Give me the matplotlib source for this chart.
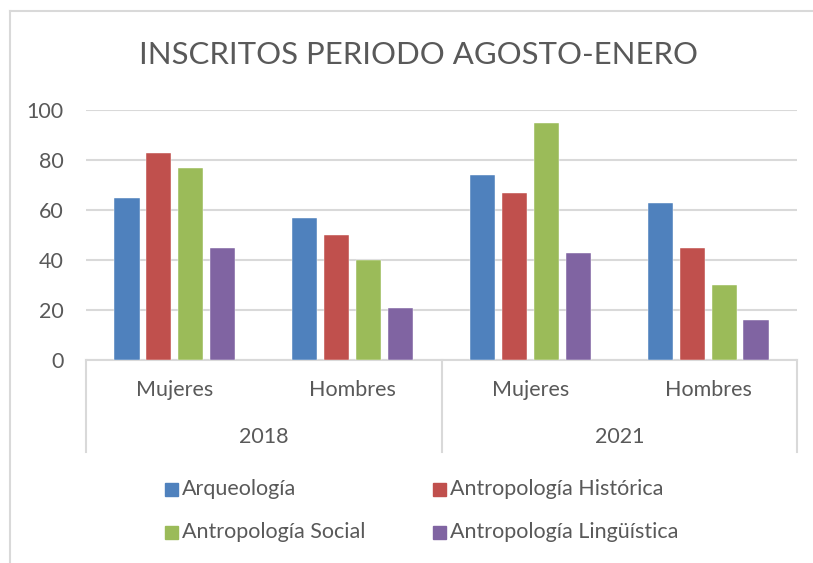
import matplotlib
matplotlib.use("Agg")
import matplotlib.pyplot as plt
import numpy as np
from matplotlib.patches import Rectangle
from matplotlib.lines import Line2D

years = ["2018", "2021"]
genders = ["Mujeres", "Hombres", "Mujeres", "Hombres"]
series_names = ["Arqueología", "Antropología Histórica", "Antropología Social", "Antropología Lingüística"]
arqueologia = [65, 57, 74, 63]
historica = [83, 50, 67, 45]
social = [77, 40, 95, 30]
linguistica = [45, 21, 43, 16]
series_values = [arqueologia, historica, social, linguistica]
colors = ["#4f81bd", "#c0504d", "#9bbb59", "#8064a2"]
yticks = [0, 20, 40, 60, 80, 100]
title = "INSCRITOS PERIODO AGOSTO-ENERO"

plt.rcParams['font.family'] = ['Lato', 'DejaVu Sans']
text_color = "#595959"
grid_color = "#d9d9d9"
fs = 15.5

W, H = 813, 563
fig = plt.figure(figsize=(W / 100, H / 100), dpi=100)

# outer chart border
fig.add_artist(Line2D([10 / W, 10 / W], [0, 1 - 11 / H], transform=fig.transFigure, color=grid_color, lw=1.5))
fig.add_artist(Line2D([10 / W, 1], [1 - 11 / H, 1 - 11 / H], transform=fig.transFigure, color=grid_color, lw=1.5))

x0, x1, ytop, ybot = 86, 797, 110, 360
ax = fig.add_axes([x0 / W, 1 - ybot / H, (x1 - x0) / W, (ybot - ytop) / H])

x = np.arange(len(genders))
bw = 0.142
pitch = 0.18
for i, (vals, c) in enumerate(zip(series_values, colors)):
    ax.bar(x + (i - 1.5) * pitch, vals, width=bw, color=c, label=series_names[i], zorder=3,
           edgecolor="white", linewidth=0.3)

ax.set_xlim(-0.5, len(genders) - 0.5)
ax.set_ylim(0, 100)
ax.set_yticks(yticks)
ax.set_yticklabels([str(t) for t in yticks], fontsize=fs, color=text_color)
ax.tick_params(axis='y', length=0, pad=16)
ax.tick_params(axis='x', length=0, labelbottom=False)
ax.grid(axis='y', color=grid_color, linewidth=1.5, zorder=0)
for s in ["top", "right", "left"]:
    ax.spines[s].set_visible(False)
ax.spines["bottom"].set_color(grid_color)
ax.spines["bottom"].set_linewidth(1.5)

trans = ax.get_xaxis_transform()
ydiv = -(452 - ybot) / (ybot - ytop)
for xv in [-0.5, 1.5, 3.5]:
    ax.plot([xv, xv], [0, ydiv], transform=trans, color=grid_color, lw=1.5, clip_on=False)

ylab = -(390 - ybot) / (ybot - ytop)
for xi, g in zip(x, genders):
    ax.text(xi, ylab, g, transform=trans, ha='center', va='center', fontsize=fs, color=text_color)
yyr = -(437 - ybot) / (ybot - ytop)
for j, yr in enumerate(years):
    ax.text(2 * j + 0.5, yyr, yr, transform=trans, ha='center', va='center', fontsize=fs, color=text_color)

fig.text(418 / W, 1 - 55 / H, title, ha='center', va='center', fontsize=22.4, color=text_color)

# legend
leg_items = [(165, 489), (433, 489), (165, 532), (433, 532)]
for (lx, ly), name, c in zip(leg_items, series_names, colors):
    fig.add_artist(Rectangle((lx / W, 1 - (ly + 7) / H), 13 / W, 13 / H, transform=fig.transFigure,
                             color=c))
    fig.text((lx + 17) / W, 1 - ly / H, name, ha='left', va='center', fontsize=fs, color=text_color)

fig.savefig("out.png", dpi=100)
